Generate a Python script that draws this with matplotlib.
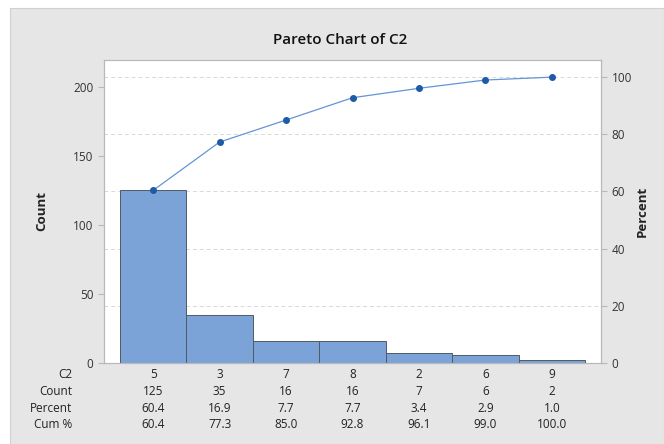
import matplotlib

matplotlib.use("Agg")
import matplotlib.pyplot as plt  # noqa: E402
import numpy as np  # noqa: E402
from matplotlib.patches import Rectangle  # noqa: E402

categories = ["5", "3", "7", "8", "2", "6", "9"]
counts = [125, 35, 16, 16, 7, 6, 2]
percent = [60.4, 16.9, 7.7, 7.7, 3.4, 2.9, 1.0]
cum_pct = [60.4, 77.3, 85.0, 92.8, 96.1, 99.0, 100.0]
row_labels = ["C2", "Count", "Percent", "Cum %"]

plt.rcParams["font.family"] = ["Open Sans", "DejaVu Sans"]

fig = plt.figure(figsize=(6.64, 4.44), dpi=100)
fig.patch.set_facecolor("white")
fig.patches.append(
    Rectangle((10 / 664, 0), 654 / 664, 436 / 444, transform=fig.transFigure,
              facecolor="#e6e6e6", edgecolor="#d0d0d0", lw=0.8, zorder=-10)
)

ax = fig.add_axes([104 / 664, 1 - 363 / 444, 497 / 664, 303 / 444])
ax.set_facecolor("white")
x = np.arange(len(categories))
total = sum(counts)
ymax_pct = 106.0
# percent gridlines, drawn behind the bars
for y in [20, 40, 60, 80, 100]:
    ax.axhline(total * y / 100, color="#d8d8d8", lw=0.7, ls=(0, (4, 3)), zorder=0)
ax.bar(x, counts, width=1.0, color="#7ba3d8", edgecolor="#505a66", linewidth=0.7, zorder=2)
ax.set_xlim(-0.74, len(categories) - 0.26)
ax.set_ylim(0, total * ymax_pct / 100)
ax.set_yticks([0, 50, 100, 150, 200])
ax.set_xticks([])
ax.set_ylabel("Count", fontsize=9.5, fontweight="bold", color="#222222", labelpad=18)

ax2 = ax.twinx()
ax2.plot(x, cum_pct, color="#6495d4", lw=0.9, marker="o", ms=4,
         mfc="#1f5aa6", mec="#1f5aa6", zorder=3)
ax2.set_ylim(0, ymax_pct)
ax2.set_yticks([0, 20, 40, 60, 80, 100])
ax2.set_ylabel("Percent", fontsize=9.5, fontweight="bold", color="#222222", labelpad=3)

for a in (ax, ax2):
    for s in a.spines.values():
        s.set_color("#b8b8b8")
        s.set_linewidth(0.8)
    a.tick_params(axis="y", labelsize=8.5, colors="#b8b8b8", labelcolor="#333333", length=4, width=0.8)
ax.set_zorder(ax2.get_zorder() - 1)
ax2.patch.set_visible(False)

# table below the axis
rows = [categories, [str(c) for c in counts], [f"{p:.1f}" for p in percent], [f"{p:.1f}" for p in cum_pct]]
row_y = [374, 391, 408, 424]
for label, vals, yp in zip(row_labels, rows, row_y):
    yf = 1 - yp / 444
    fig.text(72 / 664, yf, label, ha="right", va="center", fontsize=8.5, color="#222222")
    for xi, v in zip(x, vals):
        xd = ax.transData.transform((xi, 0))[0]
        fig.text(xd / fig.bbox.width, yf, v, ha="center", va="center", fontsize=8.5, color="#222222")

fig.text(340 / 664, 1 - 40 / 444, "Pareto Chart of C2", ha="center", va="center",
         fontsize=11, fontweight="semibold", color="#111111")

fig.savefig("out.png", dpi=100)
